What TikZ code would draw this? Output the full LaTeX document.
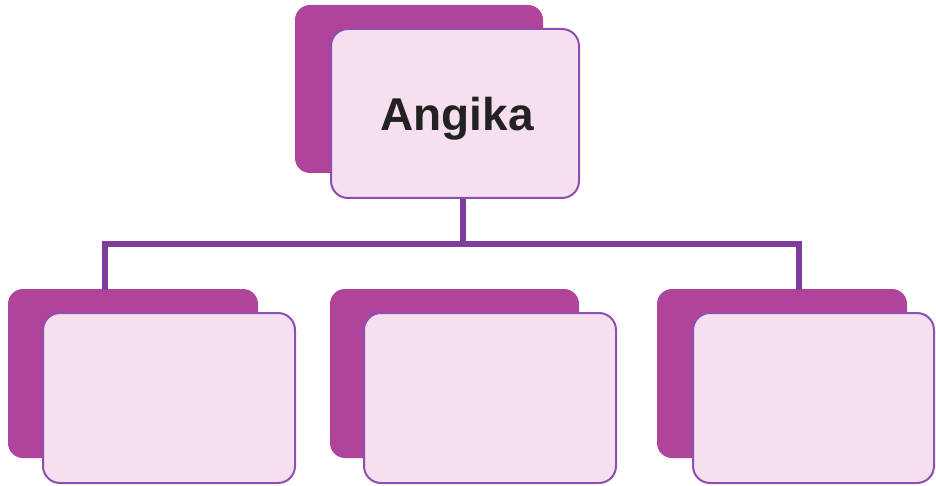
\documentclass[tikz,border=0pt]{standalone}
\usepackage{fontspec}
\setmainfont{Liberation Sans}
\definecolor{backc}{HTML}{B0449A}
\definecolor{frontc}{HTML}{F6DFEE}
\definecolor{edgec}{HTML}{8E4FB0}
\definecolor{linec}{HTML}{7E3E9D}
\definecolor{textc}{HTML}{222222}
\begin{document}
\begin{tikzpicture}[x=1pt,y=-1pt,
  backbox/.style={fill=backc,draw=none,rounded corners=15pt,inner sep=0pt},
  frontbox/.style={fill=frontc,draw=edgec,line width=2pt,rounded corners=17pt,inner sep=0pt},
  conn/.style={draw=linec,line width=6.5pt}]
\useasboundingbox (0,0) rectangle (936,486);
% back boxes
\node[backbox,minimum width=248pt,minimum height=168pt] (topback) at (419,89) {};
\node[backbox,minimum width=250pt,minimum height=169pt] (lback) at (133,373.5) {};
\node[backbox,minimum width=249pt,minimum height=169pt] (mback) at (454.5,373.5) {};
\node[backbox,minimum width=250pt,minimum height=169pt] (rback) at (782,373.5) {};
% connectors
\coordinate (bus) at (463,244);
\coordinate (bl) at (105,244);
\coordinate (br) at (799,244);
\coordinate (ldrop) at (105,290);
\coordinate (rdrop) at (799,290);
% front boxes
\node[frontbox,minimum width=248pt,minimum height=169pt] (top) at (455,113.5) {};
\node[anchor=base,inner sep=0pt,font=\fontsize{46}{52}\bfseries\selectfont,text=textc] (toptext) at (457,131) {Angika};
\draw[conn] (top.south -| bus) -- (bus);
\draw[conn] (ldrop) -- (bl) -- (br) -- (rdrop);
\node[frontbox,minimum width=252pt,minimum height=170pt] (left) at (169,398) {};
\node[frontbox,minimum width=252pt,minimum height=170pt] (mid) at (490,398) {};
\node[frontbox,minimum width=241pt,minimum height=170pt] (right) at (813.5,398) {};
\end{tikzpicture}
\end{document}
